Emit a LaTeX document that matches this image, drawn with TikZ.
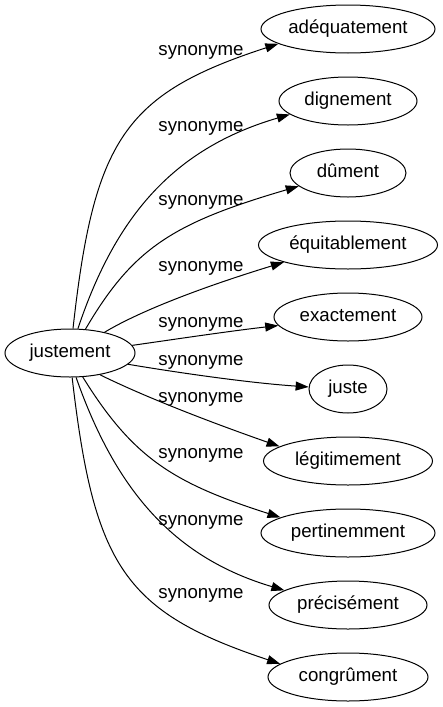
\documentclass[tikz,border=0pt]{standalone}
\usepackage{fontspec}
\setmainfont{Liberation Sans}
\usetikzlibrary{shapes.geometric, arrows.meta}
\tikzstyle{word} = [ellipse, draw=black, line width=1pt, inner sep=0pt, minimum height=48pt, text height=13.5pt, text depth=4pt, font=\fontsize{18.67pt}{22pt}\selectfont]
\tikzstyle{syn} = [anchor=base, inner sep=0pt, font=\fontsize{18.67pt}{22pt}\selectfont]
\tikzstyle{arrow} = [line width=1pt,-{Triangle[length=13pt,width=9pt]}]

\begin{document}
\begin{tikzpicture}[x=1pt, y=-1pt, node distance=72pt]
\useasboundingbox (0,0) rectangle (442,707);

\node (just) [word, minimum width=130pt] at (70,353) {justement};

\node (adeq) [word, minimum width=174pt] at (348,29) {adéquatement};

\node (dign) [word, minimum width=138pt, below of=adeq] {dignement};

\node (dum) [word, minimum width=116pt, below of=dign] {dûment};

\node (equi) [word, minimum width=179pt, below of=dum] {équitablement};

\node (exac) [word, minimum width=148pt, below of=equi] {exactement};

\node (juste) [word, minimum width=78pt, below of=exac] {juste};

\node (legi) [word, minimum width=169pt, below of=juste] {légitimement};

\node (pert) [word, minimum width=174pt, below of=legi] {pertinemment};

\node (prec) [word, minimum width=158pt, below of=pert] {précisément};

\node (cong) [word, minimum width=160pt, below of=prec] {congrûment};

% edge labels
\node (s1) [syn] at (201,55) {synonyme};
\node (s2) [syn] at (201,131) {synonyme};
\node (s3) [syn] at (201,205) {synonyme};
\node (s4) [syn] at (201,271) {synonyme};
\node (s5) [syn] at (201,327) {synonyme};
\node (s6) [syn] at (201,365) {synonyme};
\node (s7) [syn] at (201,402) {synonyme};
\node (s8) [syn] at (201,458) {synonyme};
\node (s9) [syn] at (201,525) {synonyme};
\node (s10) [syn] at (201,598) {synonyme};

\draw [arrow] (just.83) .. controls (94,140) and (124,94) .. (adeq.192);

\draw [arrow] (just.72) .. controls (115,218) and (172,149) .. (dign.193);

\draw [arrow] (just.57) .. controls (133,248) and (173,223) .. (dum.195);

\draw [arrow] (just.31) .. controls (135,314) and (190,291) .. (equi.195);

\draw [arrow] (just.7) .. controls (170,340) and (230,331) .. (exac.187);

\draw [arrow] (just.-11) .. controls (180,373) and (250,383) .. (juste.177);

\draw [arrow] (just.-36) .. controls (135,392) and (190,415) .. (legi.168);

\draw [arrow] (just.-62) .. controls (133,458) and (173,483) .. (pert.167);

\draw [arrow] (just.-76) .. controls (115,488) and (172,557) .. (prec.167);

\draw [arrow] (just.-85) .. controls (94,566) and (124,612) .. (cong.169);

\end{tikzpicture}
\end{document}
